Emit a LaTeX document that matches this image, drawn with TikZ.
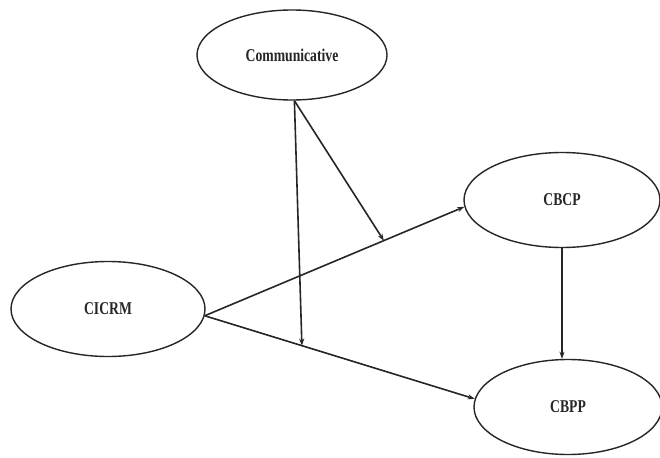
\documentclass[tikz,border=0pt]{standalone}
\usepackage{fontspec}
\usepackage{graphicx}
\setmainfont{Liberation Serif}
\usetikzlibrary{shapes.geometric,arrows.meta}
\newcommand{\lbl}[1]{\scalebox{0.76}[1]{\bfseries #1}}
\tikzset{
  construct/.style={ellipse, draw=black!85, line width=1.4pt, inner sep=0pt,
    font=\fontsize{18}{18}\selectfont, text=black!85},
  link/.style={-{Stealth[length=7pt,width=5pt]}, line width=1.6pt, draw=black!85},
}
\begin{document}
\begin{tikzpicture}[x=1pt,y=-1pt]
 \useasboundingbox[fill=white] (0,0) rectangle (660,457);
 %
 \node[construct, minimum width=190, minimum height=90] (comm) at (292,55) {\lbl{Communicative}};
 \node[construct, minimum width=194, minimum height=95] (cicrm) at (108,309) {\lbl{CICRM}};
 \node[construct, minimum width=196, minimum height=95] (cbcp) at (562,200) {\lbl{CBCP}};
 \node[construct, minimum width=188, minimum height=95] (cbpp) at (568,407) {\lbl{CBPP}};
 %
 \draw[link] (cicrm.356) -- coordinate[pos=0.69] (m1) (cbcp.184);
 \draw[link] (cicrm.356) -- coordinate[pos=0.36] (m2) (cbpp.175);
 \draw[link] (cbcp.south) -- (cbcp.south |- cbpp.north);
 %
 \draw[link] (comm.-87) -- (m1);
 \draw[link] (comm.-87) -- (m2);
\end{tikzpicture}
\end{document}
